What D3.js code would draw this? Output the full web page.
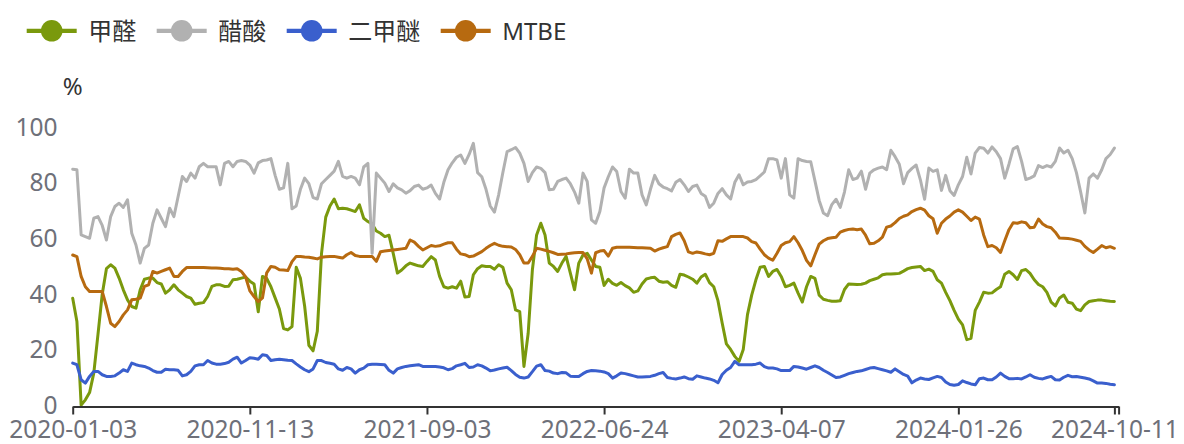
<!DOCTYPE html>
<html><head><meta charset="utf-8">
<script src="https://cdn.jsdelivr.net/npm/d3@7/dist/d3.min.js"></script>
<style>html,body{margin:0;padding:0;background:#fff}svg{display:block}</style>
</head><body>
<svg id="chart" width="1184" height="444"></svg>
<script>
// ---------------- data ----------------
const seriesNames = ["甲醛", "醋酸", "二甲醚", "MTBE"];
const seriesColors = ["#7a990d", "#b1b1b1", "#3a5fcd", "#b76a10"];
const tickLabels = ["2020-01-03", "2020-11-13", "2021-09-03", "2022-06-24", "2023-04-07", "2024-01-26", "2024-10-11"];
const tickIndex = [0, 42, 84, 126, 168, 210, 247];
const yTickValues = [0, 20, 40, 60, 80, 100];
const yUnit = "%";

const formaldehyde = [
 38.9,30.5,0.5,2.4,5,12,26,40.3,49.5,50.9,
 49.7,46.1,41.9,38.3,35.9,35.3,41.9,45.7,46.1,46.1,
 44.5,44,40.7,41.9,43.7,41.9,40.7,39.5,38.9,36.7,
 37.1,37.3,39.5,43.1,43.7,43.7,43.1,43.2,45.5,45.7,
 46.1,46.5,45,44,34,46.7,46,43,39,35,
 28,27.5,28.7,50,46,36,22,20,27,55,
 68,72,74.5,71,71.2,71,70.5,70,72.4,67.6,
 66.4,65.5,63,62.2,61,61.5,55,47.9,49,50.5,
 51.5,51,50.5,50.3,52.1,53.8,52.6,46.7,43,42.5,
 43,42.5,45,39.3,39.5,47.3,49.5,50.5,50.3,50.3,
 49.3,50.9,50,44.3,41.9,34.7,34.1,14.4,26.3,49.1,
 61.6,65.8,61.6,51.5,50.3,48.5,51.5,53.9,47.9,41.9,
 51.5,54.4,55,52.6,50.3,50,43.5,45.7,44.2,43.5,
 44.5,43.4,42.6,41,41.5,44,45.8,46.2,46.4,45,
 44.6,44.8,43.5,42.8,47.5,47.2,46.5,45.7,44.3,46.5,
 47.5,44.5,43,38,30,22.5,20.5,18,16.2,20.5,
 33,40,45.5,50,50.3,46.7,48.5,49.2,46.7,43,
 43.5,44.3,40.7,37.5,43,46.7,46,40,38.5,38.1,
 37.8,37.8,38,42,44,43.9,43.8,43.9,44.3,45.2,
 45.7,46.2,47.3,47.6,47.6,47.7,47.8,48.6,49.5,49.9,
 50.1,50.3,48.8,49.3,48.5,45.5,44.3,41,38,34.5,
 31.4,29.3,24,24.5,34.5,37.5,41,40.7,40.8,42,
 43,47.5,48.5,47.3,45.6,48.8,49.2,47.8,45.5,43.8,
 43,41,37.5,36.1,39,40,37.4,37.1,35,34.4,
 36.5,37.7,38,38.2,38.2,38,37.8,37.7
];
const aceticAcid = [
 85.2,85,61.6,61,60.4,67.6,68.2,65,59.8,68.2,
 71.8,73,71.5,74.2,62.2,58,51.5,56.8,58,65.8,
 70.6,67.6,64.6,71.2,68.2,75.4,82.6,80.8,83.8,82,
 86.1,87.3,86.1,86.1,86.1,79.6,87.3,88,86.1,88,
 88.3,88,86.7,83.8,87.5,88.3,88.5,89,83,78,
 78.5,87.3,71,72,78,82,80,75,74.5,80,
 81.5,83,84.5,88,82.6,82,82.6,82,79.6,86,
 87.3,55,83.8,82,80.2,77.2,80,78.5,77.8,76.6,
 77.5,79,79.5,78,78.5,79.5,76.5,74.5,80.5,85,
 87.5,89.5,90.3,87.3,90.5,94.5,84,82.5,78,72,
 69.8,76,84,91.5,92.2,93,91,87.3,80.8,84,
 86,85.5,84,77.8,78,80.8,81.5,82,80,77,
 73,83.8,80.8,67,65.8,70,78.5,82.5,86,84.4,
 77.2,74.8,85.2,83.8,83.8,76,72.4,78,83,80,
 78.8,78.2,77.4,80.5,81.5,79.6,77.2,79,79.5,76.5,
 75.5,71.5,73,76.5,78.2,76,74.5,80.5,83.2,79.6,
 80.6,80.8,81.5,82.8,84.2,89,89,88.5,82,89,
 76,74.8,89,88.3,88,87.9,81,74,69.5,68.5,
 72.5,74.4,71.5,77,85,81.5,82,84.5,78,83.8,
 85,85.6,86,85,92,89.7,87,80,84,85.5,
 86.7,81.4,74.4,85.6,84.4,85,77.6,83,77.5,75.8,
 79.6,82.6,89.5,83.5,91,93,92.7,91,93.2,91.5,
 89,82,87,92.5,93.3,88,81.5,82,82.8,86.5,
 85.8,86.5,86,88,92.8,91,92,89,84,77,
 69.5,82,83.5,82,85,89,90.5,92.8
];
const dimethylEther = [
 15.6,15,9.6,8.4,10.8,12.6,12.6,11.4,10.8,10.8,
 11,12,13.2,12.6,15.6,15,14.6,14.4,13.8,12.9,
 12.3,12.3,13.4,13.2,13.2,13,11,11.4,12.6,14.6,
 15,15,16.5,15.6,15.2,15.2,15.4,15.9,17,17.7,
 15.6,16.5,17.5,17.3,17,18.6,18.3,16.5,16.8,17,
 16.8,16.6,16.5,15.3,14.2,13.2,12.5,13.5,16.5,16.5,
 15.8,15.5,15.2,13.5,13,14,13.5,12,13.2,13.8,
 15,15.2,15.2,15.1,15,13,12,13.5,14,14.4,
 14.6,14.8,15,14.4,14.4,14.4,14.4,14.2,13.9,13.2,
 13.6,14.6,15,15.5,14,14.2,15,14.6,13.8,12.8,
 13.1,13.5,13.8,14.1,12.9,11.5,10.5,10.2,10.6,12.5,
 14.5,15,12.9,12.7,12,11.8,12.2,12.1,10.9,10.8,
 10.8,11.8,12.6,12.9,12.8,12.7,12.4,11.8,10.2,11,
 12,11.8,11.4,11,10.6,10.6,10.7,10.8,11.2,11.8,
 12.2,10.4,10.1,9.9,10.2,10.6,10,9.8,11,10.6,
 10.2,9.9,9.4,8.5,11.5,13,14,16.2,15,15,
 15,15,15.2,15.6,14.3,13.8,13.8,13.5,12.9,12.9,
 12.9,14.4,14.2,13.8,13.4,14,14.6,14,13,12.2,
 11.3,10.4,10.6,11.2,11.8,12.2,12.6,12.8,13.3,13.8,
 14,13.6,13.2,12.8,12.3,13.5,12.5,11.5,10.9,8.5,
 9.5,10.2,9.9,9.7,10.3,10.8,10.4,8.8,7.9,7.6,
 7.9,9.2,8.6,8.1,7.8,10,10.2,9.6,9.6,10.6,
 12,10.8,10,10,10.1,9.9,10.6,11.4,10.5,10.1,
 9.9,10.4,10.8,9.6,9.5,10.5,11.2,10.7,10.8,10.5,
 10.2,9.9,9.2,8.4,8.4,8.3,8,7.8
];
const mtbe = [
 54.4,53.8,46.7,43,41.3,41.3,41.3,41.3,35.9,29.9,
 28.7,30.5,32.9,34.7,38.3,38.5,38.9,43.1,43.7,48.5,
 47.9,48.5,49.1,49.7,46.7,46.7,48.5,49.9,49.9,49.9,
 49.9,49.9,49.8,49.7,49.7,49.6,49.5,49.5,49.3,49.5,
 48.5,46.5,41.5,39.5,37.7,39,48,50.3,50,49.1,
 49,48.8,52,53.9,53.9,53.7,53.6,53.3,53,53.6,
 53.8,53.9,53.9,53.6,53.3,54.5,55.3,54.2,53.9,53.9,
 53.9,53.9,52.1,55.6,55.8,56,56.2,56.4,56.6,56.8,
 59.8,59,57.5,56.2,57,57.8,57.5,57.7,58.3,58.8,
 58.8,56.5,54.8,54.5,53.8,54,54.8,55.6,56.8,57.8,
 58.6,57.9,57.5,57.4,57.3,56.4,54.5,51.5,51.5,53.9,
 56.8,56.5,56.1,55.7,55.2,54.6,54.7,54.8,55,55.2,
 55.3,55.3,53,47.9,55.2,55.8,56,54,56.8,57.2,
 57.2,57.2,57.2,57.1,57,57,56.9,56.8,55.8,56.5,
 57,57.4,61,61.8,62.3,59.5,55.5,55,55.5,55.2,
 54.8,54.5,55,59.5,59.3,60.2,61,61,61,61,
 60.5,59.2,58.7,56.5,54.5,53.3,52.5,55,57.8,58.8,
 59.2,61,58.8,56,52.5,50.5,54.5,58.3,59.5,60.3,
 60.6,60.8,62.6,63.2,63.6,63.7,63.5,63.7,61.5,58.4,
 58.6,59.5,60.8,64.4,64.8,66,67.5,68.3,68.8,70,
 70.7,71.2,70.5,68.5,67.4,62.2,65.8,67.3,68.4,69.8,
 70.6,69.8,68.3,66.8,68,67.3,61.6,57.4,57.8,57,
 55.3,59.5,63.5,66,65.8,66.3,66,64.2,64.4,67.3,
 65.5,64.6,64.2,62.6,60.5,60.4,60.3,60.1,59.7,59.3,
 57.5,56.2,55.3,56.5,57.8,57,57.4,56.8
];
const seriesValues = [formaldehyde, aceticAcid, dimethylEther, mtbe];

// ---------------- layout ----------------
const svg = d3.select("#chart");
const FONT = "'Noto Sans','Noto Sans CJK SC',sans-serif";
const nPts = formaldehyde.length;

const x = d3.scaleLinear().domain([0, nPts]).range([72.7, 1118.6]);
const y = d3.scaleLinear().domain([0, 100]).range([406.5, 128]);

// y-axis labels (no axis line, no grid)
const yAxis = d3.axisLeft(y).tickValues(yTickValues).tickSize(0).tickPadding(0);
const gy = svg.append("g").attr("transform", "translate(57.5,0)").call(yAxis);
gy.select(".domain").remove();
gy.selectAll("text")
  .attr("font-family", FONT).attr("font-size", 24.5).attr("fill", "#6e7079")
  .attr("x", 0).attr("dy", null).attr("y", 7).attr("text-anchor", "end");

// y unit
svg.append("text").attr("x", x(0)).attr("y", 94.5).attr("text-anchor", "middle")
  .attr("font-family", FONT).attr("font-size", 24).attr("fill", "#333").text(yUnit);

// lines
const line = d3.line().x((d, i) => x(i)).y(d => y(d)).curve(d3.curveLinear);
seriesValues.forEach((vals, k) => {
  svg.append("path").datum(vals)
    .attr("d", line).attr("fill", "none")
    .attr("stroke", seriesColors[k]).attr("stroke-width", 3)
    .attr("stroke-linejoin", "round").attr("stroke-linecap", "round");
});

// x axis
const xAxis = d3.axisBottom(x)
  .tickValues(tickIndex.concat([nPts]))
  .tickFormat(d => { const j = tickIndex.indexOf(d); return j >= 0 ? tickLabels[j] : ""; })
  .tickSize(8).tickSizeOuter(0).tickPadding(6);
const gx = svg.append("g").attr("transform", `translate(0,${y(0)})`).call(xAxis);
gx.select(".domain").attr("stroke", "#333").attr("stroke-width", 2);
gx.selectAll(".tick line").attr("stroke", "#333").attr("stroke-width", 2);
gx.selectAll(".tick text")
  .attr("font-family", FONT).attr("font-size", 24.5).attr("fill", "#6e7079")
  .attr("dy", null).attr("y", 31);

// legend
const legend = svg.append("g");
let lx = 26.7;
seriesNames.forEach((name, k) => {
  const g = legend.append("g").attr("transform", `translate(${lx},0)`);
  g.append("line").attr("x1", 0).attr("x2", 50).attr("y1", 30.8).attr("y2", 30.8)
    .attr("stroke", seriesColors[k]).attr("stroke-width", 4.3);
  g.append("circle").attr("cx", 25).attr("cy", 30.8).attr("r", 10.8).attr("fill", seriesColors[k]);
  const t = g.append("text").attr("x", 61.5).attr("y", 40)
    .attr("font-family", FONT).attr("font-size", 24).attr("fill", "#333").text(name);
  lx += 61.5 + t.node().getComputedTextLength() + 20.5;
});
</script>
</body></html>
